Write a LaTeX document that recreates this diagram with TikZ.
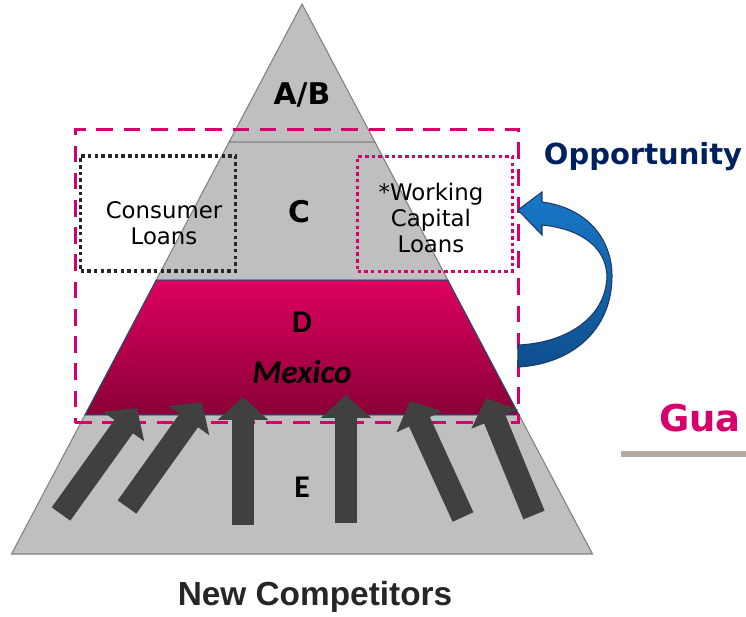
\documentclass[tikz,border=0pt]{standalone}
\usepackage{fontspec}
\setmainfont{DejaVu Sans}
\newfontfamily\arialfont{Liberation Sans}
\newfontfamily\calibfont{Carlito}
\usetikzlibrary{arrows.meta,calc,positioning}
\definecolor{tiergray}{HTML}{BFBFBF}
\definecolor{tieredge}{HTML}{808080}
\definecolor{magenta}{HTML}{D6006C}
\definecolor{navy}{HTML}{002060}
\definecolor{pushgray}{HTML}{404040}
\definecolor{rulegray}{HTML}{B4AAA0}
\tikzstyle{tier}=[fill=tiergray, draw=tieredge, line width=0.6pt]
\tikzstyle{midtier}=[top color={rgb,255:red,222;green,0;blue,96},
  bottom color={rgb,255:red,138;green,0;blue,54}, draw={rgb,255:red,31;green,78;blue,121},
  line width=0.6pt]
\tikzstyle{tierlabel}=[font=\bfseries\fontsize{17}{20}\selectfont]
\tikzstyle{dlabel}=[font=\calibfont\bfseries\fontsize{18}{21}\selectfont]
\tikzstyle{loanbox}=[line width=2pt, dash pattern=on 2pt off 1.8pt,
  minimum width=3.1cm, minimum height=2.3cm]
\tikzstyle{loantext}=[align=center, font=\fontsize{13}{15}\selectfont]
\tikzstyle{focusbox}=[draw=magenta, line width=1.7pt, dash pattern=on 9.5pt off 6pt,
  minimum width=8.88cm, minimum height=5.88cm]
\tikzstyle{push}=[draw=pushgray, line width=13pt, -{Triangle[width=28pt,length=13pt]}]
\tikzstyle{bluearrow}=[top color={rgb,255:red,24;green,120;blue,200},
  bottom color={rgb,255:red,14;green,79;blue,142}, draw={rgb,255:red,31;green,56;blue,100},
  line width=0.6pt]

\begin{document}
\begin{tikzpicture}[x=0.02cm,y=-0.02cm]
  \useasboundingbox (0,0) rectangle (746,616);

  \coordinate(apex) at (302,4);
  \coordinate(bl) at (11.5,554);
  \coordinate(br) at (592.5,554);
  \coordinate(l1) at ($(apex)!0.251!(bl)$);
  \coordinate(r1) at ($(apex)!0.251!(br)$);
  \coordinate(l2) at ($(apex)!0.502!(bl)$);
  \coordinate(r2) at ($(apex)!0.502!(br)$);
  \coordinate(l3) at ($(apex)!0.747!(bl)$);
  \coordinate(r3) at ($(apex)!0.747!(br)$);

  \draw[tier] (apex) -- (r1) -- (l1) -- cycle;
  \draw[tier] (l1) -- (r1) -- (r2) -- (l2) -- cycle;
  \draw[tier] (l3) -- (r3) -- (br) -- (bl) -- cycle;
  \draw[midtier] (l2) -- (r2) -- (r3) -- (l3) -- cycle;

  \node(ab)[tierlabel] at (302,95) {A/B};
  \node(tierc)[tierlabel] at (299,212) {C};
  \node(d)[dlabel] at (302,322) {D};
  \path(d)+(0,50) node(mexico)[dlabel,font=\calibfont\bfseries\itshape\fontsize{19}{22}\selectfont]{Mexico};
  \node(e)[dlabel] at (302,487) {E};

  \node(cbox)[loanbox, draw={rgb,255:red,38;green,38;blue,38}] at (158,213.5) {};
  \path(cbox.center)+(6,10) node(consumer)[loantext]{Consumer\\Loans};

  \node(wbox)[loanbox, draw=magenta] at (435,214) {};
  \path(wbox.center)+(-4,4) node(working)[loantext]{*Working\\Capital\\Loans};

  \node(focus)[focusbox] at (297,276) {};

  \coordinate(t1) at (61,514);  \coordinate(h1) at (137,408);
  \coordinate(t2) at (127,507); \coordinate(h2) at (202,402);
  \coordinate(t3) at (243,525); \coordinate(h3) at (243,397);
  \coordinate(t4) at (346,523); \coordinate(h4) at (346,395);
  \coordinate(t5) at (463,517); \coordinate(h5) at (410,401);
  \coordinate(t6) at (534,515); \coordinate(h6) at (486,398);
  \foreach \i in {1,...,6}
    \draw[push] (t\i) -- (h\i);

  \draw[bluearrow] (518,210) -- (542,192) -- (542,202)
    .. controls (588,208) and (612,240) .. (612,276)
    .. controls (612,330) and (572,364) .. (518,367)
    -- (518,345)
    .. controls (566,343) and (606,318) .. (607,276)
    .. controls (606,248) and (582,229) .. (542,225)
    -- (542,235) -- cycle;

  \node(opportunity)[font=\bfseries\fontsize{16.5}{19}\selectfont, text=navy] at (643,157) {Opportunity};
  \node(gua)[anchor=base west, font=\bfseries\fontsize{21}{24}\selectfont, text=magenta, inner sep=0pt]
    at (659,431) {Gua};
  \draw[rulegray, line width=3pt] (621,454) -- (746,454);

  \node(newcomp)[font=\arialfont\bfseries\fontsize{19}{22}\selectfont,
    text={rgb,255:red,38;green,38;blue,38}] at (315,597) {New Competitors};
\end{tikzpicture}
\end{document}
